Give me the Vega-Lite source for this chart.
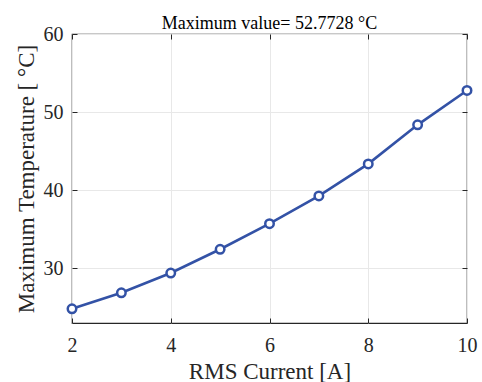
{
  "$schema": "https://vega.github.io/schema/vega-lite/v6.json",
  "width": 395,
  "height": 289,
  "autosize": {"type": "none"},
  "padding": {"left": 72, "top": 34, "right": 15, "bottom": 59},
  "background": "white",
  "title": {
    "text": "Maximum value= 52.7728 °C",
    "font": "Liberation Serif",
    "fontSize": 18,
    "fontWeight": "normal",
    "color": "#000000",
    "offset": -9,
    "anchor": "middle"
  },
  "data": {
    "values": [
      {"current": 2, "temp": 24.82},
      {"current": 3, "temp": 26.87},
      {"current": 4, "temp": 29.40},
      {"current": 5, "temp": 32.44},
      {"current": 6, "temp": 35.72},
      {"current": 7, "temp": 39.27},
      {"current": 8, "temp": 43.37},
      {"current": 9, "temp": 48.37},
      {"current": 10, "temp": 52.7728}
    ]
  },
  "config": {
    "view": {"stroke": "#262626", "strokeWidth": 1.2},
    "axis": {
      "labelFont": "Liberation Serif",
      "titleFont": "Liberation Serif",
      "labelFontSize": 20,
      "titleFontSize": 23,
      "titleFontWeight": "normal",
      "labelColor": "#262626",
      "titleColor": "#262626",
      "labelFlush": false,
      "labelOverlap": false,
      "domain": false,
      "tickColor": "#262626",
      "tickSize": -5,
      "gridColor": "#e8e8e8",
      "gridWidth": 1
    }
  },
  "layer": [
    {
      "mark": {"type": "line", "color": "#3352a6", "strokeWidth": 2.6},
      "encoding": {
        "x": {
          "field": "current",
          "type": "quantitative",
          "scale": {"domain": [2, 10], "nice": false, "zero": false},
          "axis": {
            "orient": "bottom",
            "title": "RMS Current [A]",
            "values": [2, 4, 6, 8, 10],
            "labelPadding": 17,
            "titleY": 55,
            "titleBaseline": "alphabetic"
          }
        },
        "y": {
          "field": "temp",
          "type": "quantitative",
          "scale": {"domain": [23, 60], "nice": false, "zero": false},
          "axis": {
            "orient": "left",
            "title": "Maximum Temperature [ °C]",
            "values": [30, 40, 50, 60],
            "labelPadding": 14,
            "titleX": -39,
            "titleBaseline": "alphabetic"
          }
        }
      }
    },
    {
      "mark": {
        "type": "point",
        "shape": "circle",
        "filled": true,
        "fill": "white",
        "stroke": "#3352a6",
        "strokeWidth": 2.5,
        "size": 72,
        "opacity": 1
      },
      "encoding": {
        "x": {
          "field": "current",
          "type": "quantitative",
          "scale": {"domain": [2, 10], "nice": false, "zero": false},
          "axis": {
            "orient": "top",
            "title": null,
            "labels": false,
            "grid": false,
            "values": [2, 4, 6, 8, 10]
          }
        },
        "y": {
          "field": "temp",
          "type": "quantitative",
          "scale": {"domain": [23, 60], "nice": false, "zero": false},
          "axis": {
            "orient": "right",
            "title": null,
            "labels": false,
            "grid": false,
            "values": [30, 40, 50, 60]
          }
        }
      }
    }
  ],
  "resolve": {"axis": {"x": "independent", "y": "independent"}}
}
